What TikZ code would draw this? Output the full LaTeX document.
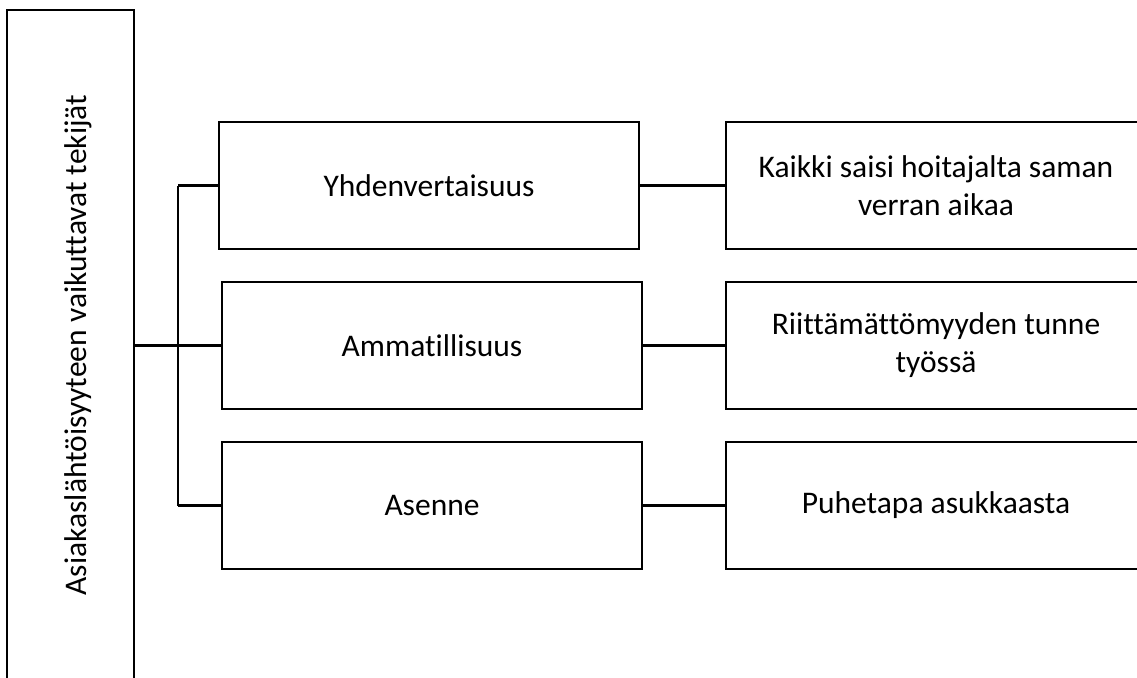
\documentclass[tikz,border=0pt]{standalone}
\usepackage{fontspec}
\setmainfont{Carlito}[Ligatures={CommonOff}]
\begin{document}
\begin{tikzpicture}[x=1pt,y=-1pt,
  txt/.style={font=\fontsize{31.5}{38}\selectfont},
  box/.style={txt,draw=black,line width=2.5pt,minimum width=420pt,minimum height=127pt,inner sep=0pt,align=center},
  link/.style={draw=black,line width=2.5pt}]
\useasboundingbox (0,0) rectangle (1137,677);
\clip (0,0) rectangle (1137,677);
% tall title column on the left
\node[draw=black,line width=2.5pt,minimum width=127pt,minimum height=690pt,inner sep=0pt] (lb) at (70.5,355) {};
\node[txt,rotate=90] (lbt) at (78,345) {Asiakaslähtöisyyteen vaikuttavat tekijät};
% middle column
\node[box] (yh) at (429,185.5) {Yhdenvertaisuus};
\node[box] (am) at (432,345.5) {Ammatillisuus};
\node[box] (as) at (432,505.5) {Asenne};
% right column
\node[box] (r1) at (936,185.5) {Kaikki saisi hoitajalta saman\\verran aikaa};
\node[box] (r2) at (936,345.5) {Riittämättömyyden tunne\\työssä};
\node[box] (r3) at (936,505.5) {Puhetapa asukkaasta};
% connectors
\coordinate (bus) at (178,345);
\draw[link] (lb.east |- am.west) -- (am.west);
\draw[link] (bus |- yh.west) -- (bus |- as.west);
\draw[link] (bus |- yh.west) -- (yh.west);
\draw[link] (bus |- as.west) -- (as.west);
\draw[link] (yh.east) -- (r1.west);
\draw[link] (am.east) -- (r2.west);
\draw[link] (as.east) -- (r3.west);
\end{tikzpicture}
\end{document}
